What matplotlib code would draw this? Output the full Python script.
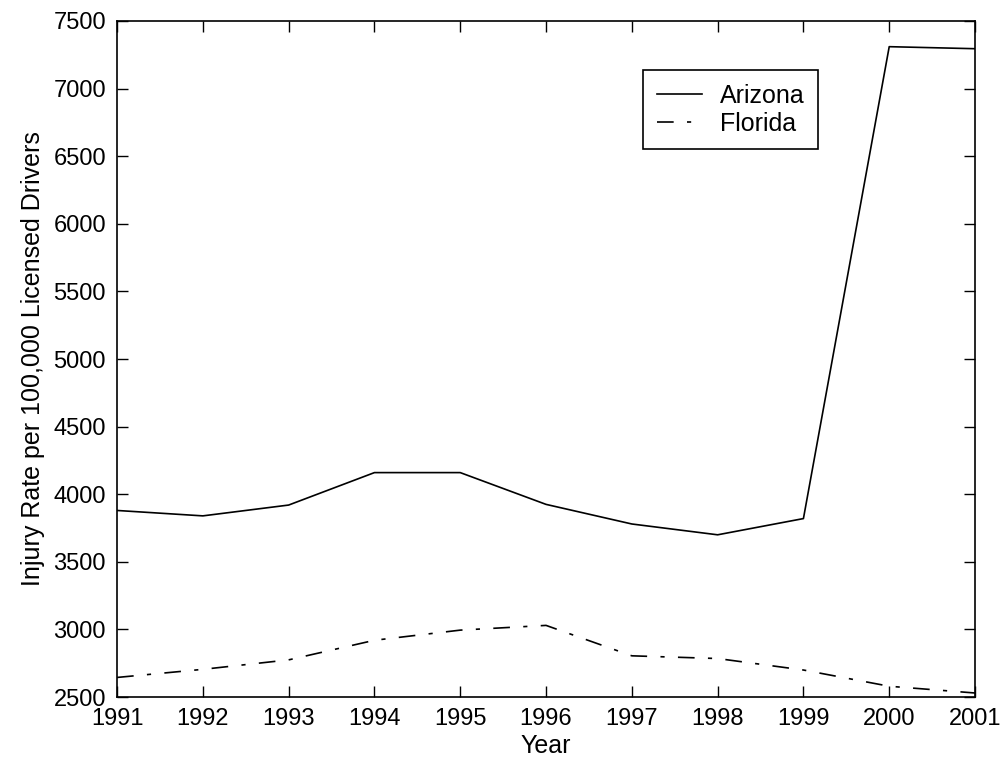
import matplotlib.pyplot as plt

plt.rcParams["font.family"] = "Liberation Sans"

years = list(range(1991, 2002))
arizona = [3880, 3840, 3920, 4160, 4160, 3925, 3780, 3700, 3820, 7310, 7295]
florida = [2645, 2705, 2775, 2920, 2995, 3030, 2805, 2785, 2700, 2580, 2530]

TICK_FONTSIZE = 17
LABEL_FONTSIZE = 18


def main():
    fig = plt.figure(figsize=(10.03, 7.66), dpi=100)
    ax = fig.add_axes([0.1167, 0.090, 0.8554, 0.8826])

    ax.plot(years, arizona, color="black", lw=1.2, label="Arizona")
    ax.plot(years, florida, color="black", lw=1.2,
            linestyle=(0, (10, 8, 2.5, 8)), label="Florida")

    ax.set_xlim(1991, 2001)
    ax.set_ylim(2500, 7500)
    ax.set_xticks(years)
    ax.set_yticks(range(2500, 7501, 500))
    ax.tick_params(direction="in", length=8, width=1, top=True, right=True,
                   labelsize=TICK_FONTSIZE)
    ax.tick_params(axis="y", pad=8)
    ax.tick_params(axis="x", pad=8)
    for spine in ax.spines.values():
        spine.set_linewidth(1.2)

    ax.set_xlabel("Year", fontsize=LABEL_FONTSIZE, labelpad=3)
    ax.set_ylabel("Injury Rate per 100,000 Licensed Drivers",
                  fontsize=LABEL_FONTSIZE, labelpad=6)

    leg = ax.legend(loc="upper right", bbox_to_anchor=(0.817, 0.9275),
                    borderaxespad=0, fancybox=False, fontsize=LABEL_FONTSIZE,
                    handlelength=1.8, handletextpad=0.7, borderpad=0.55,
                    labelspacing=0.15, framealpha=1)
    leg.get_frame().set_edgecolor("black")
    leg.get_frame().set_linewidth(1.2)

    fig.savefig("out.png", dpi=100)


if __name__ == "__main__":
    main()
